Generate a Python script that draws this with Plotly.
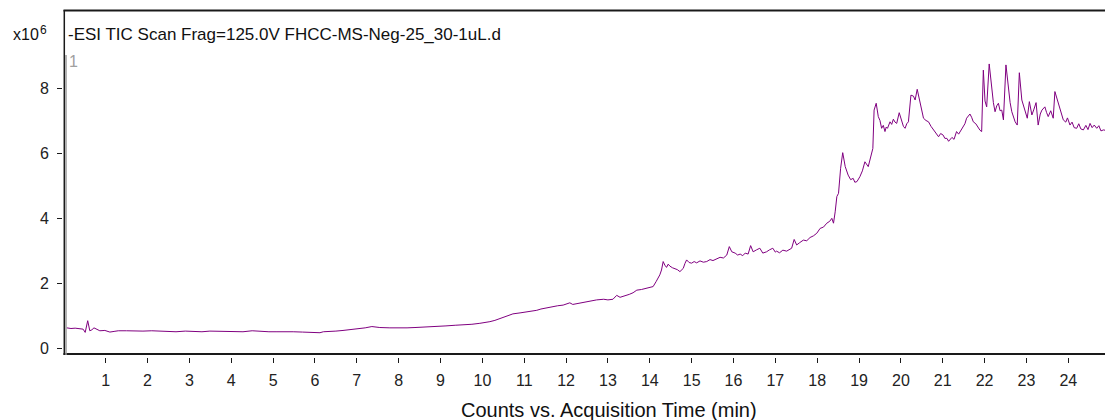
import plotly.graph_objects as go

# Acquisition time (min)
time_min = [
    0.07, 0.17, 0.27, 0.36, 0.46, 0.51, 0.57, 0.62, 0.67, 0.72,
    0.79, 0.86, 0.98, 1.10, 1.20, 1.30, 1.50, 1.70, 1.89, 2.10,
    2.30, 2.50, 2.68, 2.90, 3.09, 3.30, 3.49, 3.70, 3.89, 4.10,
    4.28, 4.50, 4.69, 4.90, 5.07, 5.30, 5.48, 5.70, 5.88, 6.05,
    6.12, 6.20, 6.28, 6.50, 6.67, 6.90, 7.08, 7.20, 7.36, 7.55,
    7.79, 8.03, 8.20, 8.39, 8.60, 8.75, 8.95, 9.13, 9.35, 9.54,
    9.75, 9.94, 10.10, 10.18, 10.30, 10.42, 10.55, 10.73, 10.90, 11.00,
    11.14, 11.30, 11.40, 11.54, 11.70, 11.80, 11.93, 12.09, 12.16, 12.30,
    12.45, 12.60, 12.73, 12.90, 13.00, 13.12, 13.21, 13.29, 13.40, 13.51,
    13.60, 13.69, 13.80, 13.89, 14.00, 14.08, 14.15, 14.20, 14.24, 14.28,
    14.32, 14.36, 14.40, 14.44, 14.48, 14.54, 14.60, 14.66, 14.72, 14.76,
    14.80, 14.84, 14.88, 14.94, 15.00, 15.06, 15.12, 15.20, 15.28, 15.36,
    15.44, 15.51, 15.60, 15.68, 15.76, 15.84, 15.90, 15.96, 16.04, 16.10,
    16.16, 16.22, 16.28, 16.35, 16.41, 16.47, 16.55, 16.63, 16.70, 16.79,
    16.86, 16.94, 17.00, 17.03, 17.10, 17.18, 17.27, 17.33, 17.39, 17.45,
    17.51, 17.58, 17.67, 17.75, 17.83, 17.91, 17.99, 18.07, 18.15, 18.23,
    18.30, 18.35, 18.39, 18.43, 18.47, 18.51, 18.56, 18.61, 18.67, 18.74,
    18.80, 18.86, 18.90, 18.95, 19.02, 19.08, 19.14, 19.22, 19.28, 19.33,
    19.36, 19.41, 19.46, 19.50, 19.54, 19.58, 19.62, 19.65, 19.68, 19.71,
    19.74, 19.78, 19.82, 19.86, 19.90, 19.96, 20.02, 20.06, 20.10, 20.14,
    20.18, 20.24, 20.30, 20.34, 20.39, 20.46, 20.50, 20.54, 20.60, 20.66,
    20.72, 20.78, 20.84, 20.90, 20.95, 21.01, 21.05, 21.10, 21.14, 21.17,
    21.22, 21.27, 21.33, 21.38, 21.44, 21.49, 21.53, 21.57, 21.65, 21.69,
    21.73, 21.79, 21.85, 21.89, 21.93, 21.97, 22.01, 22.05, 22.11, 22.17,
    22.21, 22.25, 22.29, 22.33, 22.37, 22.41, 22.45, 22.51, 22.57, 22.61,
    22.65, 22.69, 22.73, 22.78, 22.83, 22.89, 22.93, 22.97, 23.02, 23.07,
    23.13, 23.18, 23.23, 23.28, 23.33, 23.37, 23.44, 23.48, 23.52, 23.58,
    23.64, 23.68, 23.72, 23.76, 23.82, 23.88, 23.94, 23.98, 24.04, 24.09,
    24.14, 24.20, 24.25, 24.30, 24.36, 24.42, 24.47, 24.52, 24.57, 24.62,
    24.68, 24.73, 24.78, 24.84, 24.88,
]

# Total ion counts (x10^6)
counts_1e6 = [
    0.62, 0.60, 0.61, 0.60, 0.58, 0.48, 0.84, 0.53, 0.56, 0.62,
    0.57, 0.53, 0.54, 0.49, 0.51, 0.53, 0.53, 0.52, 0.52, 0.53,
    0.52, 0.51, 0.50, 0.52, 0.51, 0.50, 0.52, 0.51, 0.51, 0.49,
    0.50, 0.53, 0.51, 0.50, 0.50, 0.51, 0.50, 0.49, 0.49, 0.48,
    0.47, 0.50, 0.50, 0.52, 0.54, 0.57, 0.59, 0.62, 0.66, 0.63,
    0.62, 0.61, 0.62, 0.63, 0.64, 0.66, 0.67, 0.68, 0.70, 0.71,
    0.73, 0.76, 0.78, 0.81, 0.85, 0.91, 0.97, 1.05, 1.08, 1.10,
    1.12, 1.16, 1.20, 1.24, 1.27, 1.30, 1.32, 1.39, 1.34, 1.38,
    1.42, 1.45, 1.48, 1.50, 1.48, 1.50, 1.62, 1.56, 1.60, 1.65,
    1.70, 1.78, 1.80, 1.83, 1.86, 1.89, 2.04, 2.15, 2.25, 2.40,
    2.66, 2.55, 2.48, 2.58, 2.52, 2.47, 2.45, 2.41, 2.35, 2.40,
    2.45, 2.60, 2.71, 2.63, 2.61, 2.66, 2.62, 2.68, 2.64, 2.66,
    2.72, 2.69, 2.75, 2.79, 2.77, 2.86, 3.12, 2.96, 2.92, 2.86,
    2.89, 2.84, 2.92, 2.89, 3.15, 2.96, 3.02, 3.07, 2.92, 2.96,
    3.02, 3.07, 2.95, 2.98, 2.93, 3.01, 2.98, 3.03, 3.07, 3.34,
    3.17, 3.24, 3.32, 3.30, 3.40, 3.45, 3.53, 3.68, 3.72, 3.84,
    3.90, 3.99, 3.84, 4.19, 4.66, 4.76, 5.53, 6.01, 5.58, 5.32,
    5.18, 5.22, 5.10, 5.12, 5.27, 5.45, 5.73, 5.58, 5.89, 6.14,
    7.32, 7.53, 7.12, 7.00, 6.76, 6.85, 6.66, 6.80, 6.76, 6.90,
    6.96, 6.88, 7.04, 6.95, 6.91, 7.24, 6.96, 6.82, 6.76, 6.90,
    6.96, 7.78, 7.75, 7.63, 7.96, 7.53, 7.25, 7.07, 7.00, 6.96,
    6.82, 6.71, 6.62, 6.50, 6.60, 6.55, 6.45, 6.45, 6.36, 6.40,
    6.48, 6.42, 6.66, 6.58, 6.72, 6.79, 6.90, 7.07, 7.20, 7.10,
    6.96, 6.90, 6.76, 6.70, 6.66, 8.55, 7.60, 7.42, 8.74, 7.89,
    7.55, 7.27, 7.45, 7.53, 7.30, 7.32, 7.02, 8.71, 7.89, 7.55,
    7.27, 7.10, 6.96, 6.86, 8.47, 7.63, 7.45, 7.32, 7.07, 7.58,
    7.17, 7.35, 7.55, 6.86, 7.20, 7.32, 7.42, 7.25, 7.12, 7.30,
    7.07, 7.89, 7.70, 7.53, 7.25, 7.02, 6.95, 7.08, 6.86, 6.95,
    6.78, 6.76, 6.90, 6.74, 6.71, 6.85, 6.72, 6.91, 6.78, 6.86,
    6.76, 6.84, 6.68, 6.71, 6.70,
]

x_ticks = list(range(1, 25))
y_ticks = [0, 2, 4, 6, 8]

FONT = "Arial, Liberation Sans, sans-serif"
AX = "#1a1a1a"

# plot-area geometry in page pixels
PL, PT, PW, PH = 63, 10, 1042, 347
W, H = 1105, 420


def px(xp):
    return (xp - PL) / PW


def py(yp):
    return (PT + PH - yp) / PH


fig = go.Figure()
fig.add_trace(go.Scatter(x=time_min, y=counts_1e6, mode="lines",
                         line=dict(color="#800080", width=1), hoverinfo="skip",
                         showlegend=False))

fig.update_layout(
    width=W, height=H, autosize=False,
    margin=dict(l=PL, r=W - PL - PW, t=PT, b=H - PT - PH, pad=0),
    paper_bgcolor="white", plot_bgcolor="white",
    font=dict(family=FONT, size=16, color="#222"),
    xaxis=dict(range=[-0.0203, 24.877], tickmode="array", tickvals=x_ticks,
               ticktext=[str(v) for v in x_ticks], ticks="outside", ticklen=5,
               tickwidth=1, tickcolor=AX, showgrid=False, zeroline=False,
               showline=False, ticklabelstandoff=4, tickfont=dict(size=16)),
    yaxis=dict(range=[-0.277, 10.4], tickmode="array", tickvals=y_ticks,
               ticktext=[str(v) for v in y_ticks], ticks="outside", ticklen=5,
               tickwidth=1, tickcolor=AX, showgrid=False, zeroline=False,
               showline=False, ticklabelstandoff=5, tickfont=dict(size=16)),
)

# axis frame lines
fig.add_shape(type="line", xref="paper", yref="paper", x0=px(64.3), x1=px(64.3),
              y0=py(355), y1=py(10), line=dict(color=AX, width=1.5))
fig.add_shape(type="line", xref="paper", yref="paper", x0=px(63.5), x1=1,
              y0=py(354), y1=py(354), line=dict(color=AX, width=2))
fig.add_shape(type="line", xref="paper", yref="paper", x0=px(63.5), x1=1,
              y0=py(10.5), y1=py(10.5), line=dict(color=AX, width=2))
# grey trace-start marker
fig.add_shape(type="line", xref="paper", yref="paper", x0=px(66), x1=px(66),
              y0=py(355), y1=py(55), line=dict(color="#9a9a9a", width=1.5))

fig.add_annotation(xref="paper", yref="paper", x=px(66), y=py(34.5), xanchor="left",
                   yanchor="middle", showarrow=False,
                   text="-ESI TIC Scan Frag=125.0V FHCC-MS-Neg-25_30-1uL.d",
                   font=dict(size=17, color="#111", family=FONT))
fig.add_annotation(xref="paper", yref="paper", x=px(67.3), y=py(61), xanchor="left",
                   yanchor="middle", showarrow=False, text="1",
                   font=dict(size=16, color="#a0a0a0", family=FONT))
fig.add_annotation(xref="paper", yref="paper", x=px(11), y=py(34.5), xanchor="left",
                   yanchor="middle", showarrow=False, text="x10",
                   font=dict(size=16, color="#111", family=FONT))
fig.add_annotation(xref="paper", yref="paper", x=px(38), y=py(30), xanchor="left",
                   yanchor="middle", showarrow=False, text="6",
                   font=dict(size=12, color="#111", family=FONT))
fig.add_annotation(xref="paper", yref="paper", x=px(608.5), y=py(410),
                   xanchor="center", yanchor="middle", showarrow=False,
                   text="Counts vs. Acquisition Time (min)",
                   font=dict(size=20, color="#111", family=FONT))

fig.write_html("out.html",
               config={"displayModeBar": False},
               post_script="document.body.style.margin='0';"
                           "document.body.style.overflow='hidden';")
